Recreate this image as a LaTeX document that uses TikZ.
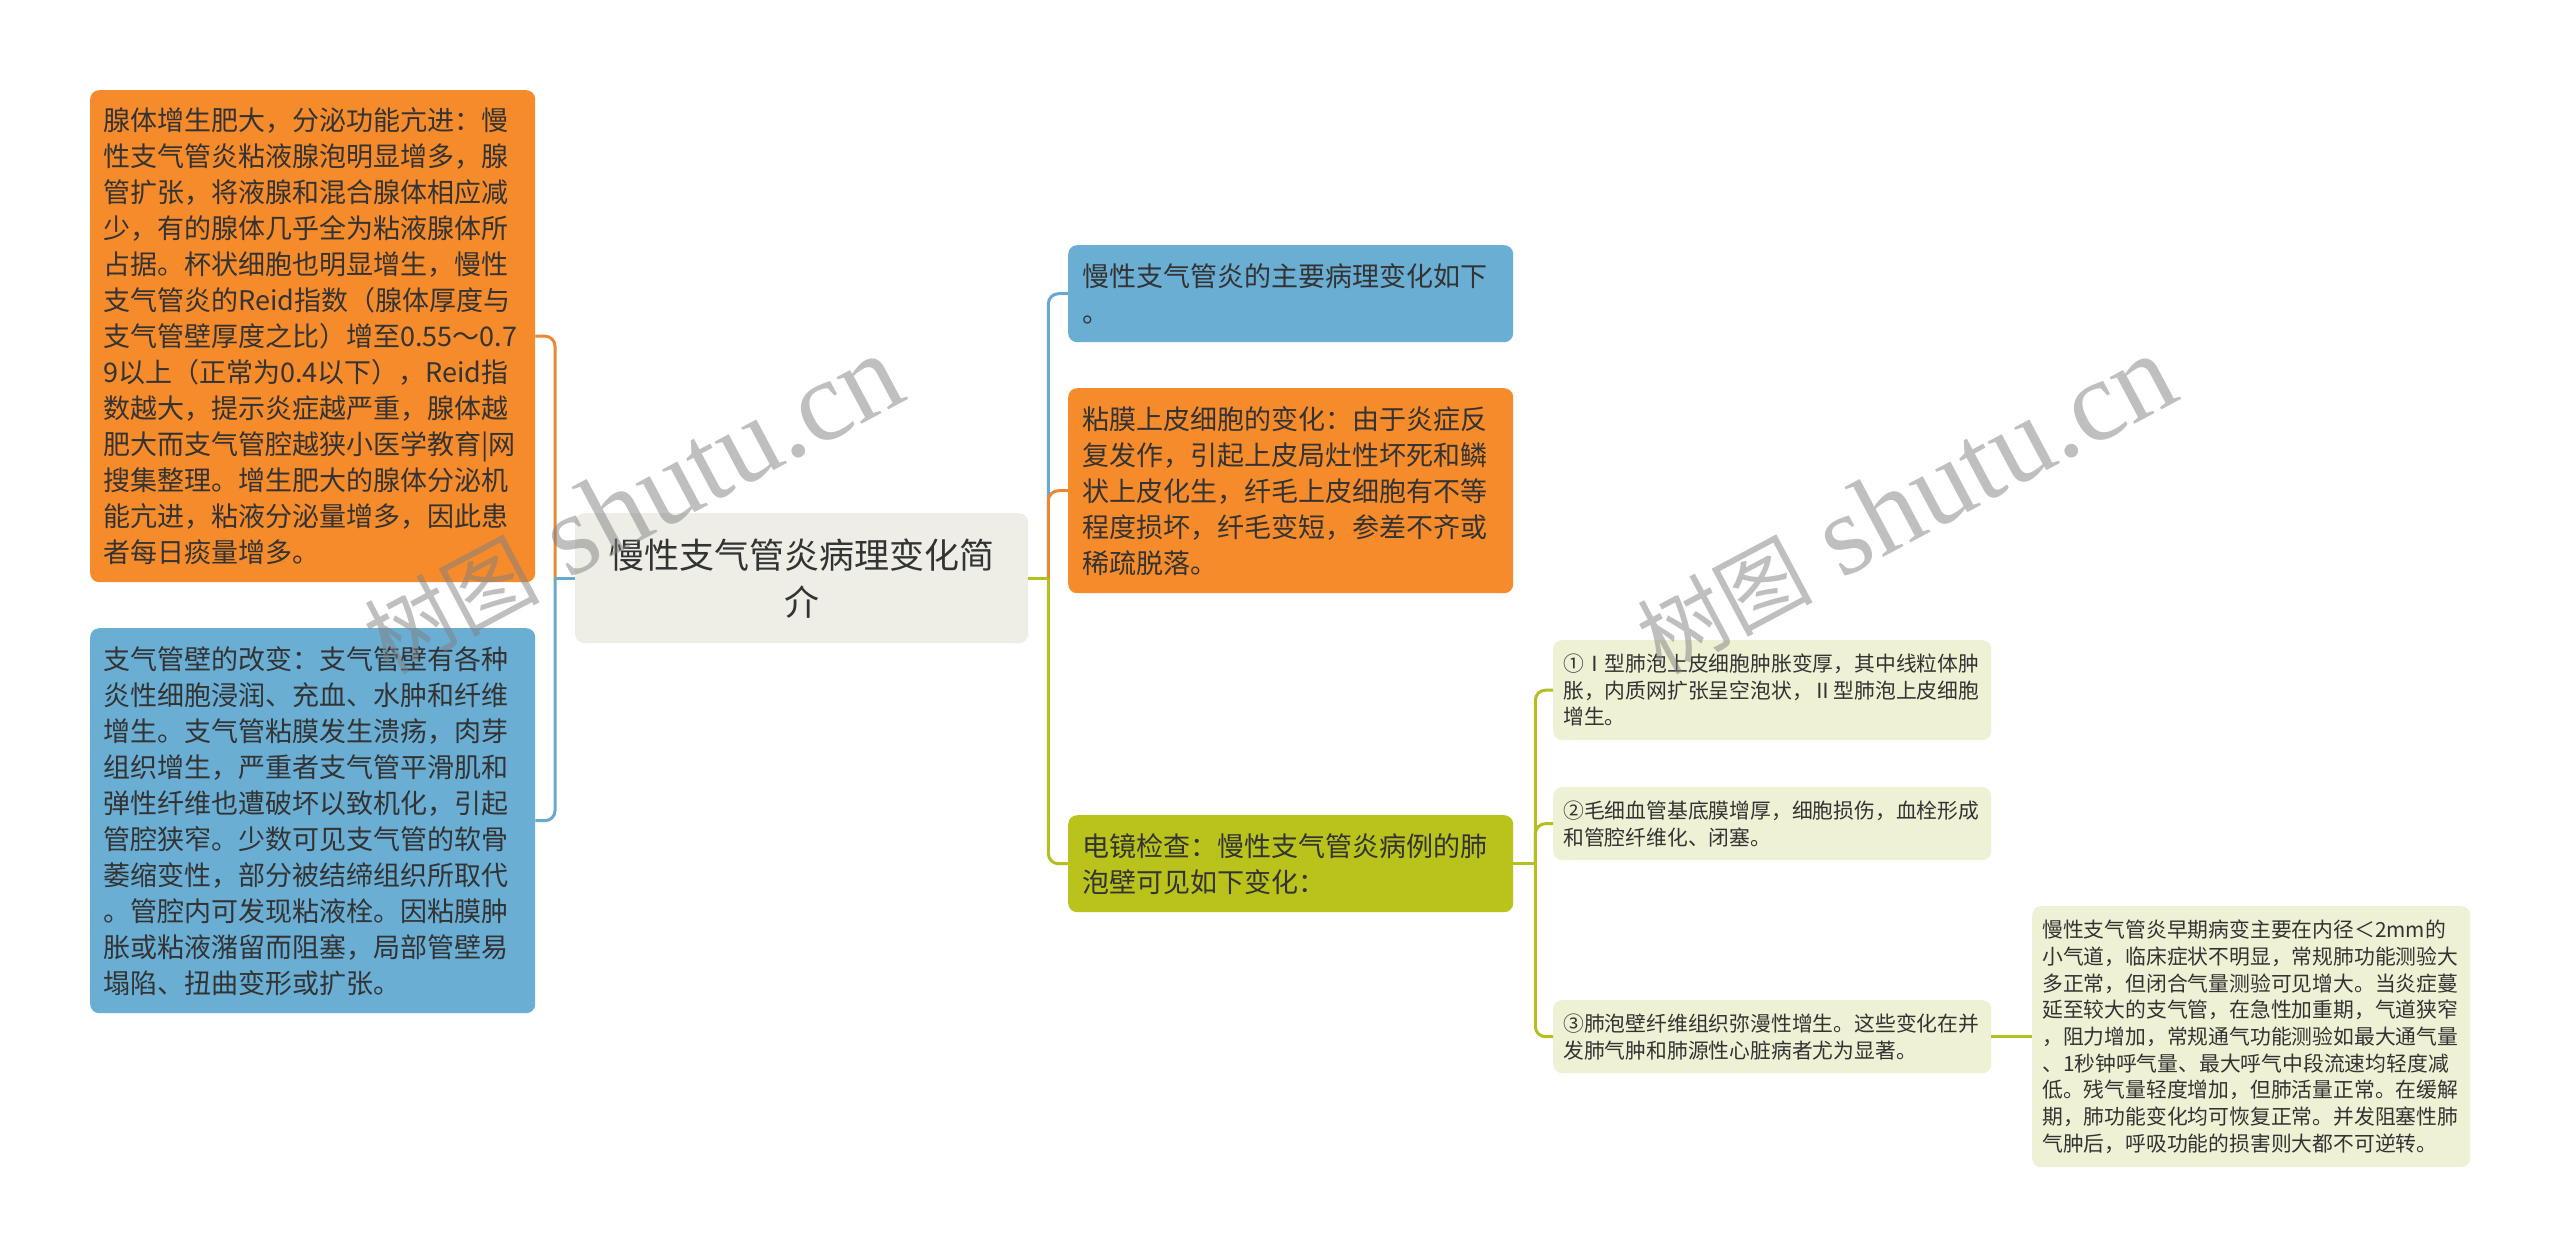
\documentclass[tikz,border=0pt]{standalone}
\usepackage{fontspec}
\setmainfont{Noto Sans CJK SC}
\newfontfamily\cjk{Noto Sans CJK SC}
\newfontfamily\wmserif{Liberation Serif}
\usetikzlibrary{calc}
\definecolor{orangeF}{HTML}{F68B2C}
\definecolor{blueF}{HTML}{6AAED3}
\definecolor{greenF}{HTML}{B9C31B}
\definecolor{paleF}{HTML}{EFF1D5}
\definecolor{centerF}{HTML}{EEEEE7}
\definecolor{txt}{HTML}{333333}
\definecolor{orangeL}{HTML}{E88A33}
\definecolor{blueL}{HTML}{6AA9CF}
\definecolor{greenL}{HTML}{B4C020}
\begin{document}
\begin{tikzpicture}[x=1pt,y=-1pt,
  box/.style={rectangle, rounded corners=9pt, draw=none, anchor=north west, inner sep=0pt},
  bigtxt/.style={anchor=west, align=left, inner sep=0pt, text=txt, font=\fontsize{27}{36}\selectfont},
  smalltxt/.style={anchor=west, align=left, inner sep=0pt, text=txt, font=\fontsize{20.8}{26.7}\selectfont},
  conn/.style={line width=3pt, rounded corners=10pt},
  stub/.style={line width=3pt},
  wmark/.style={rotate=28, text=black!50, opacity=0.5, inner sep=0pt},
  ]
\fill[white] (0,0) rectangle (2560,1258);
\useasboundingbox (0,0) rectangle (2560,1258);

% boxes
\node[box, fill=orangeF, minimum width=445pt, minimum height=492pt] (A) at (90,90) {};
\node[box, fill=blueF, minimum width=445pt, minimum height=385pt] (B) at (90,628) {};
\node[box, fill=centerF, minimum width=453pt, minimum height=130pt] (C) at (575,513) {};
\node[box, fill=blueF, minimum width=445pt, minimum height=97pt] (D) at (1068,245) {};
\node[box, fill=orangeF, minimum width=445pt, minimum height=205pt] (E) at (1068,388) {};
\node[box, fill=greenF, minimum width=445pt, minimum height=97pt] (F) at (1068,815) {};
\node[box, fill=paleF, minimum width=438pt, minimum height=100pt] (G1) at (1553,640) {};
\node[box, fill=paleF, minimum width=438pt, minimum height=73pt] (G2) at (1553,787) {};
\node[box, fill=paleF, minimum width=438pt, minimum height=73pt] (G3) at (1553,1000) {};
\node[box, fill=paleF, minimum width=438pt, minimum height=261pt] (H) at (2032,906) {};

% connectors
\coordinate (CL) at ($(C.west)+(-20,0)$);
\coordinate (CR) at ($(C.east)+(20,0)$);
\coordinate (FR) at ($(F.east)+(22,0)$);
\draw[conn, orangeL] (CL) |- (A.east);
\draw[conn, blueL] (CL) |- (B.east);
\draw[stub, blueL] (C.west) -- (CL);
\draw[conn, blueL] (CR) |- (D.west);
\draw[conn, orangeL] (CR) |- (E.west);
\draw[conn, greenL] (CR) |- (F.west);
\draw[stub, greenL] (C.east) -- (CR);
\draw[conn, greenL] (FR) |- (G1.west);
\draw[conn, greenL] (FR) |- (G2.west);
\draw[conn, greenL] (FR) |- (G3.west);
\draw[stub, greenL] (F.east) -- (FR);
\draw[stub, greenL] (G3.east) -- (H.west);

% texts
\node[bigtxt] (At) at ($(A.west)+(13,0)$) {腺体增生肥大，分泌功能亢进：慢\\性支气管炎粘液腺泡明显增多，腺\\管扩张，将液腺和混合腺体相应减\\少，有的腺体几乎全为粘液腺体所\\占据。杯状细胞也明显增生，慢性\\支气管炎的Reid指数（腺体厚度与\\支气管壁厚度之比）增至0.55～0.7\\9以上（正常为0.4以下），Reid指\\数越大，提示炎症越严重，腺体越\\肥大而支气管腔越狭小医学教育|网\\搜集整理。增生肥大的腺体分泌机\\能亢进，粘液分泌量增多，因此患\\者每日痰量增多。};
\node[bigtxt] (Bt) at ($(B.west)+(13,0)$) {支气管壁的改变：支气管壁有各种\\炎性细胞浸润、充血、水肿和纤维\\增生。支气管粘膜发生溃疡，肉芽\\组织增生，严重者支气管平滑肌和\\弹性纤维也遭破坏以致机化，引起\\管腔狭窄。少数可见支气管的软骨\\萎缩变性，部分被结缔组织所取代\\。管腔内可发现粘液栓。因粘膜肿\\胀或粘液潴留而阻塞，局部管壁易\\塌陷、扭曲变形或扩张。};
\node[align=center, inner sep=0pt, text=txt, font=\fontsize{35}{47}\selectfont] (Ct) at (C.center) {慢性支气管炎病理变化简\\介};
\node[bigtxt] (Dt) at ($(D.west)+(14,0)$) {慢性支气管炎的主要病理变化如下\\。};
\node[bigtxt] (Et) at ($(E.west)+(14,0)$) {粘膜上皮细胞的变化：由于炎症反\\复发作，引起上皮局灶性坏死和鳞\\状上皮化生，纤毛上皮细胞有不等\\程度损坏，纤毛变短，参差不齐或\\稀疏脱落。};
\node[bigtxt] (Ft) at ($(F.west)+(14,0)$) {电镜检查：慢性支气管炎病例的肺\\泡壁可见如下变化：};
\node[smalltxt] (G1t) at ($(G1.west)+(10,0)$) {①Ⅰ型肺泡上皮细胞肿胀变厚，其中线粒体肿\\胀，内质网扩张呈空泡状，Ⅱ型肺泡上皮细胞\\增生。};
\node[smalltxt] (G2t) at ($(G2.west)+(10,0)$) {②毛细血管基底膜增厚，细胞损伤，血栓形成\\和管腔纤维化、闭塞。};
\node[smalltxt] (G3t) at ($(G3.west)+(10,0)$) {③肺泡壁纤维组织弥漫性增生。这些变化在并\\发肺气肿和肺源性心脏病者尤为显著。};
\node[smalltxt] (Ht) at ($(H.west)+(10,0)$) {慢性支气管炎早期病变主要在内径＜2mm的\\小气道，临床症状不明显，常规肺功能测验大\\多正常，但闭合气量测验可见增大。当炎症蔓\\延至较大的支气管，在急性加重期，气道狭窄\\，阻力增加，常规通气功能测验如最大通气量\\、1秒钟呼气量、最大呼气中段流速均轻度减\\低。残气量轻度增加，但肺活量正常。在缓解\\期，肺功能变化均可恢复正常。并发阻塞性肺\\气肿后，呼吸功能的损害则大都不可逆转。};

% watermarks
\node[wmark] (W1) at (632,505) {{\cjk\fontsize{88}{88}\selectfont 树图}{\wmserif\fontsize{115}{115}\selectfont\ shutu.cn}};
\node[wmark] (W2) at (1905,505) {{\cjk\fontsize{88}{88}\selectfont 树图}{\wmserif\fontsize{115}{115}\selectfont\ shutu.cn}};
\end{tikzpicture}
\end{document}
